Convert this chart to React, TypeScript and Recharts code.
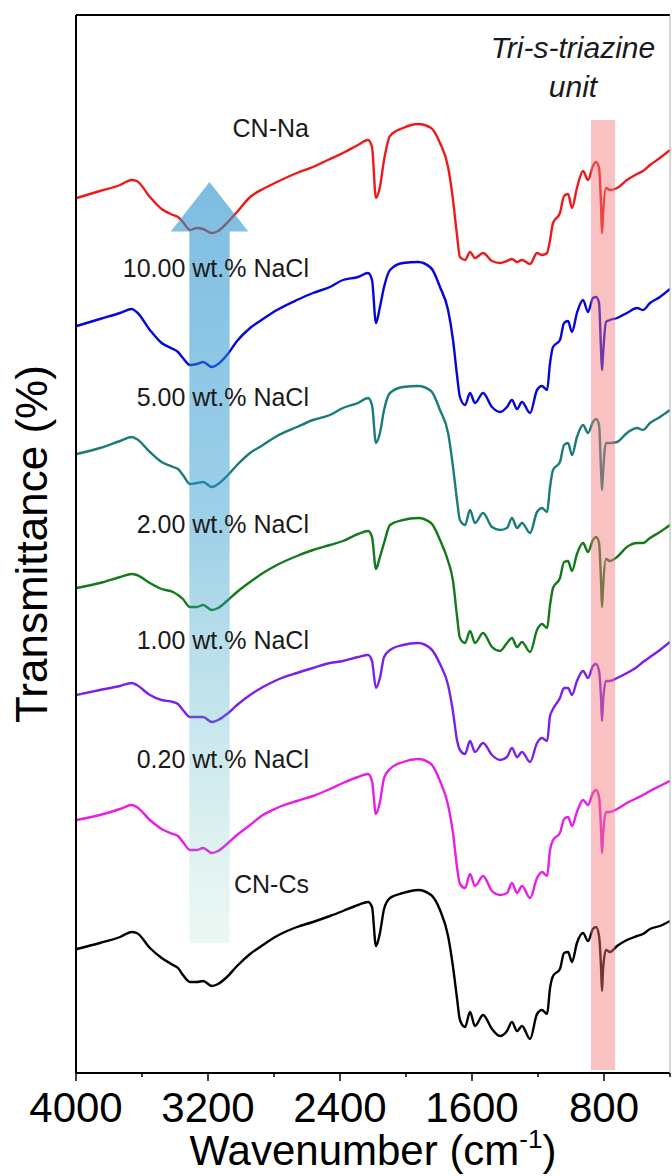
import {
  Line,
  LineChart,
  ReferenceArea,
  ReferenceDot,
  XAxis,
  YAxis,
} from "recharts";

const FONT = '"Liberation Sans", Arial, Helvetica, sans-serif';

// wavenumber (cm-1), shared by every spectrum
const wavenumber = [
  3996, 3855, 3733, 3662, 3632, 3552, 3481, 3412, 3382, 3352,
  3309, 3267, 3230, 3176, 3139, 3085, 3024, 2945, 2867, 2782,
  2661, 2564, 2461, 2382, 2291, 2230, 2206, 2182, 2158, 2133,
  2097, 2018, 1927, 1848, 1794, 1745, 1715, 1691, 1673, 1642,
  1612, 1582, 1533, 1479, 1430, 1388, 1358, 1327, 1297, 1248,
  1206, 1176, 1145, 1127, 1109, 1067, 1042, 1018, 994, 964,
  927, 897, 867, 848, 830, 818, 812, 806, 788, 764,
  721, 661, 600, 564, 521, 461, 400,
];

// transmittance, stacked (a.u.)
const cnNa = [
  88.0, 88.7, 89.3, 89.8, 89.7, 88.1, 86.9, 86.3, 86.1, 85.6,
  84.8, 85.0, 84.9, 84.5, 84.7, 85.5, 86.6, 88.1, 88.9, 89.6,
  90.5, 91.1, 91.9, 92.5, 93.3, 93.8, 93.1, 88.0, 89.1, 91.8,
  94.2, 95.0, 95.4, 95.0, 93.5, 91.1, 87.8, 84.3, 82.1, 81.8,
  82.6, 82.0, 82.5, 81.7, 81.5, 81.7, 81.9, 81.6, 81.8, 81.4,
  82.5, 82.3, 82.5, 83.8, 85.5, 86.5, 88.2, 88.4, 87.0, 89.0,
  90.7, 89.8, 91.2, 91.6, 91.0, 87.3, 84.5, 86.3, 89.0, 88.8,
  89.0, 89.8, 90.4, 90.7, 91.3, 92.0, 92.8,
];
const nacl1000 = [
  75.2, 75.9, 76.5, 76.9, 76.6, 74.8, 73.5, 72.9, 72.6, 72.0,
  71.3, 71.4, 71.6, 71.1, 71.4, 72.3, 73.7, 75.0, 75.9, 76.8,
  77.8, 78.5, 79.1, 79.8, 80.1, 80.5, 79.8, 75.5, 77.1, 79.1,
  80.8, 81.5, 81.6, 81.0, 79.1, 76.8, 73.8, 70.3, 68.1, 67.3,
  68.5, 67.5, 68.5, 67.1, 66.6, 67.1, 67.8, 66.9, 67.6, 66.5,
  68.8, 69.2, 68.8, 71.5, 73.1, 73.8, 75.5, 75.7, 74.6, 76.5,
  77.8, 76.6, 78.0, 78.1, 77.5, 72.8, 70.8, 72.3, 75.6, 75.8,
  76.0, 76.5, 77.0, 76.8, 77.5, 78.1, 78.9,
];
const nacl500 = [
  62.4, 63.0, 63.7, 64.1, 63.9, 62.6, 61.6, 61.1, 60.9, 60.3,
  59.4, 59.5, 59.6, 59.1, 59.4, 60.2, 61.3, 62.5, 63.3, 64.2,
  65.1, 65.8, 66.3, 67.0, 67.5, 68.0, 67.3, 63.5, 64.5, 66.8,
  68.5, 69.1, 69.2, 68.7, 66.8, 64.5, 61.1, 57.8, 55.8, 55.3,
  56.8, 55.5, 56.5, 55.1, 54.8, 55.0, 56.0, 55.0, 55.5, 54.5,
  56.6, 57.0, 56.6, 59.1, 60.8, 61.6, 63.3, 63.5, 62.3, 64.1,
  65.3, 64.5, 65.6, 65.9, 65.3, 60.8, 58.8, 60.5, 63.5, 63.5,
  63.6, 64.5, 65.0, 64.8, 65.5, 66.1, 66.8,
];
const nacl200 = [
  49.0, 49.5, 50.1, 50.4, 50.3, 49.5, 48.9, 48.6, 48.3, 47.9,
  47.1, 47.1, 47.3, 46.8, 47.0, 47.7, 48.6, 49.6, 50.5, 51.3,
  52.2, 52.8, 53.3, 53.7, 54.4, 54.7, 54.1, 50.9, 52.1, 53.5,
  55.3, 55.8, 56.0, 55.5, 53.8, 51.7, 49.7, 46.2, 44.0, 43.5,
  44.7, 43.5, 44.5, 43.1, 42.7, 43.5, 44.0, 43.1, 43.6, 42.6,
  44.8, 45.4, 45.0, 47.3, 49.0, 50.0, 51.6, 51.7, 50.7, 52.4,
  53.5, 52.6, 53.8, 54.1, 53.5, 49.7, 47.1, 49.0, 51.9, 51.7,
  52.1, 53.1, 53.5, 53.5, 54.0, 54.6, 55.3,
];
const nacl100 = [
  38.3, 38.8, 39.2, 39.5, 39.3, 38.3, 37.8, 37.6, 37.4, 36.8,
  36.1, 36.1, 36.1, 35.6, 35.8, 36.4, 37.3, 38.3, 39.1, 39.8,
  40.5, 41.0, 41.5, 41.7, 42.1, 42.3, 41.7, 39.0, 40.0, 42.1,
  42.8, 43.3, 43.5, 42.9, 41.4, 39.3, 36.6, 33.8, 32.8, 32.4,
  33.7, 32.6, 33.5, 32.3, 31.8, 32.1, 33.0, 32.1, 32.6, 31.6,
  33.5, 34.0, 33.7, 36.2, 36.9, 38.0, 39.0, 39.0, 38.3, 39.7,
  40.7, 40.0, 41.2, 41.4, 40.7, 38.0, 35.7, 37.6, 39.7, 39.7,
  40.0, 40.5, 41.1, 41.6, 42.1, 42.8, 43.6,
];
const nacl020 = [
  25.8, 26.3, 26.9, 27.3, 27.1, 25.8, 24.9, 24.4, 24.2, 23.6,
  22.8, 22.8, 23.0, 22.5, 22.7, 23.4, 24.3, 25.3, 26.3, 27.0,
  27.7, 28.2, 28.9, 29.5, 30.1, 30.4, 29.7, 26.4, 27.6, 30.0,
  30.9, 31.6, 31.9, 31.4, 29.7, 27.3, 24.5, 21.1, 19.4, 19.0,
  20.4, 19.2, 20.2, 18.7, 18.3, 18.5, 19.5, 18.5, 19.2, 18.0,
  20.0, 20.6, 20.2, 22.8, 23.8, 24.5, 25.9, 26.1, 25.2, 26.6,
  27.8, 27.3, 28.5, 28.8, 28.1, 24.9, 22.5, 24.2, 26.6, 26.6,
  26.9, 27.5, 28.0, 28.3, 28.7, 29.2, 29.7,
];
const cnCs = [
  12.9, 13.5, 14.1, 14.6, 14.5, 13.0, 12.0, 11.3, 11.0, 10.3,
  9.6, 9.6, 9.7, 9.2, 9.4, 10.1, 11.2, 12.4, 13.3, 14.2,
  15.1, 15.6, 16.2, 16.7, 17.3, 17.6, 17.1, 13.2, 14.5, 16.9,
  18.0, 18.5, 18.8, 18.3, 16.8, 14.2, 11.1, 8.0, 5.8, 5.1,
  6.6, 5.2, 6.3, 4.9, 4.2, 4.7, 5.6, 4.7, 5.2, 3.9,
  6.4, 6.8, 6.4, 9.0, 10.2, 10.9, 12.5, 12.6, 11.6, 13.5,
  14.5, 13.7, 14.9, 15.1, 14.2, 11.1, 8.7, 10.8, 12.8, 12.6,
  13.2, 13.8, 14.2, 14.4, 14.9, 15.2, 15.7,
];

const majorTicks = [4000, 3200, 2400, 1600, 800];
const minorTicks = [3600, 2800, 2000, 1200, 400];

const series = [
  { key: "cnNa", name: "CN-Na", color: "#ee1a1a", values: cnNa },
  { key: "nacl1000", name: "10.00 wt.% NaCl", color: "#0505dc", values: nacl1000 },
  { key: "nacl500", name: "5.00 wt.% NaCl", color: "#1a7b7b", values: nacl500 },
  { key: "nacl200", name: "2.00 wt.% NaCl", color: "#14791a", values: nacl200 },
  { key: "nacl100", name: "1.00 wt.% NaCl", color: "#7a20e8", values: nacl100 },
  { key: "nacl020", name: "0.20 wt.% NaCl", color: "#e61ee6", values: nacl020 },
  { key: "cnCs", name: "CN-Cs", color: "#000000", values: cnCs },
];

// where each sample name sits (right end, baseline) in data units
const labelWn = [2588, 2588, 2588, 2588, 2588, 2588, 2588];
const labelT = [94.1, 80.1, 67.2, 54.5, 42.9, 31.0, 18.5];

const data = wavenumber.map((wn, i) => {
  const row: Record<string, number> = { wn };
  series.forEach((s) => {
    row[s.key] = s.values[i];
  });
  return row;
});

const AxisTick = (props: any) => {
  const { x, y, payload } = props;
  const major = majorTicks.includes(payload.value);
  return (
    <g>
      <line x1={x} x2={x} y1={y} y2={y + (major ? 8 : 4)} stroke="#000" strokeWidth={1.5} />
      {major && (
        <text x={x} y={y + 49} textAnchor="middle" fontSize={42} fontFamily={FONT} fill="#000">
          {payload.value}
        </text>
      )}
    </g>
  );
};

const XTitle = (props: any) => {
  const vb = props.viewBox || {};
  const cx = vb.x + vb.width / 2;
  const y = vb.y + 92;
  return (
    <text x={cx} y={y} textAnchor="middle" fontSize={42} fontFamily={FONT} fill="#000">
      Wavenumber (cm
      <tspan fontSize={26} dy={-17}>-1</tspan>
      <tspan dy={17}>)</tspan>
    </text>
  );
};

const YTitle = (props: any) => {
  const vb = props.viewBox || {};
  const x = vb.x + vb.width - 29;
  const cy = vb.y + vb.height / 2;
  return (
    <text
      x={x}
      y={cy}
      textAnchor="middle"
      fontSize={44}
      fontFamily={FONT}
      fill="#000"
      transform={`rotate(-90, ${x}, ${cy})`}
    >
      Transmittance (%)
    </text>
  );
};

const textLabel =
  (text: string, anchor: string, size: number, italic = false) =>
  (props: any) => {
    const vb = props.viewBox || {};
    const x = (vb.x ?? 0) + (vb.width ?? 0) / 2;
    const y = (vb.y ?? 0) + (vb.height ?? 0) / 2;
    return (
      <text
        x={x}
        y={y}
        textAnchor={anchor}
        fontSize={size}
        fontStyle={italic ? "italic" : "normal"}
        fontFamily={FONT}
        fill="#1a1a1a"
      >
        {text}
      </text>
    );
  };

// up arrow with a fading fill, drawn inside the ReferenceArea box
const ArrowShape = (props: any) => {
  const { x, y, width, height } = props;
  const headH = height * 0.065;
  const sl = x + width * 0.24;
  const sr = x + width * 0.76;
  const cx = x + width * 0.5;
  const pts = [
    [cx, y],
    [x + width, y + headH],
    [sr, y + headH],
    [sr, y + height],
    [sl, y + height],
    [sl, y + headH],
    [x, y + headH],
  ]
    .map((p) => p.join(","))
    .join(" ");
  return (
    <g>
      <defs>
        <linearGradient id="arrowGrad" x1="0" y1="0" x2="0" y2="1">
          <stop offset="0%" stopColor="rgb(40,145,205)" stopOpacity={0.6} />
          <stop offset="45%" stopColor="rgb(40,150,205)" stopOpacity={0.45} />
          <stop offset="76%" stopColor="rgb(60,170,190)" stopOpacity={0.25} />
          <stop offset="100%" stopColor="rgb(110,200,170)" stopOpacity={0.13} />
        </linearGradient>
      </defs>
      <polygon points={pts} fill="url(#arrowGrad)" stroke="none" />
    </g>
  );
};

export default function App() {
  return (
    <div style={{ position: "absolute", left: 0, top: 0, background: "#fff" }}>
      <LineChart
        width={672}
        height={1176}
        data={data}
        margin={{ top: 14, right: 1, bottom: 73, left: 75 }}
      >
        <XAxis
          dataKey="wn"
          type="number"
          domain={[400, 4000]}
          reversed
          allowDataOverflow
          ticks={[...majorTicks, ...minorTicks].sort((a, b) => b - a)}
          interval={0}
          tick={<AxisTick />}
          tickLine={false}
          tickSize={0}
          tickMargin={0}
          height={30}
          axisLine={{ stroke: "#000", strokeWidth: 2 }}
          label={{ content: (p: any) => <XTitle {...p} /> }}
        />
        <XAxis
          xAxisId="top"
          orientation="top"
          dataKey="wn"
          type="number"
          domain={[400, 4000]}
          reversed
          tick={false}
          tickLine={false}
          height={1}
          axisLine={{ stroke: "#000", strokeWidth: 2 }}
        />
        <YAxis
          type="number"
          domain={[0.5, 106.3]}
          allowDataOverflow
          width={1}
          tick={false}
          tickLine={false}
          axisLine={{ stroke: "#000", strokeWidth: 2 }}
          label={{ content: (p: any) => <YTitle {...p} /> }}
        />
        <YAxis
          yAxisId="right"
          orientation="right"
          type="number"
          domain={[0.5, 106.3]}
          width={1}
          tick={false}
          tickLine={false}
          axisLine={{ stroke: "#b0b0b0", strokeWidth: 1 }}
        />
        {series.map((s) => (
          <Line
            key={s.key}
            dataKey={s.key}
            name={s.name}
            type="monotone"
            stroke={s.color}
            strokeWidth={2.4}
            dot={false}
            activeDot={false}
            isAnimationActive={false}
          />
        ))}
        <ReferenceArea
          x1={879}
          x2={733}
          y1={0.8}
          y2={95.8}
          fill="rgb(242,119,119)"
          fillOpacity={0.455}
          stroke="none"
          ifOverflow="visible"
          zIndex={450}
        />
        <ReferenceArea
          x1={3426}
          x2={2956}
          y1={13.5}
          y2={89.6}
          shape={ArrowShape}
          ifOverflow="visible"
          zIndex={450}
        />
        {series.map((s, i) => (
          <ReferenceDot
            key={`lab-${s.key}`}
            x={labelWn[i]}
            y={labelT[i]}
            r={0}
            fill="none"
            stroke="none"
            ifOverflow="visible"
            label={{ content: textLabel(s.name, "end", 25) }}
          />
        ))}
        <ReferenceDot
          x={988}
          y={102.0}
          r={0}
          fill="none"
          stroke="none"
          ifOverflow="visible"
          label={{ content: textLabel("Tri-s-triazine", "middle", 30, true) }}
        />
        <ReferenceDot
          x={988}
          y={98.1}
          r={0}
          fill="none"
          stroke="none"
          ifOverflow="visible"
          label={{ content: textLabel("unit", "middle", 30, true) }}
        />
      </LineChart>
    </div>
  );
}
